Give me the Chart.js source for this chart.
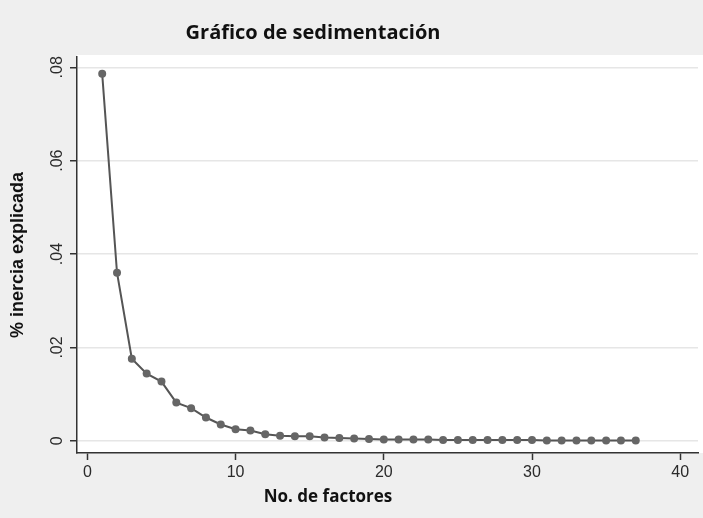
<!DOCTYPE html>
<html>
<head>
<meta charset="utf-8">
<script src="https://cdn.jsdelivr.net/npm/chart.js@4"></script>
<style>
  body { margin: 0; background: #efefef; }
  canvas { display: block; }
</style>
</head>
<body>
<canvas id="screeChart" width="703" height="518"></canvas>
<script>
// valores
const factores = [1, 2, 3, 4, 5, 6, 7, 8, 9, 10, 11, 12, 13, 14, 15, 16, 17, 18, 19, 20,
  21, 22, 23, 24, 25, 26, 27, 28, 29, 30, 31, 32, 33, 34, 35, 36, 37];
const inercia = [0.0786, 0.0360, 0.0176, 0.0144, 0.0127, 0.0082, 0.0070, 0.0050, 0.0035, 0.0025,
  0.0022, 0.0014, 0.0011, 0.0010, 0.0010, 0.0007, 0.0006, 0.0005, 0.0004, 0.0003,
  0.0003, 0.0003, 0.0003, 0.0002, 0.0002, 0.0002, 0.0002, 0.0002, 0.0002, 0.0002,
  0.0001, 0.0001, 0.0001, 0.0001, 0.0001, 0.0001, 0.0001];
const xTicks = [0, 10, 20, 30, 40];
const yTicks = [0, 0.02, 0.04, 0.06, 0.08];
const yTickLabels = ['0', '.02', '.04', '.06', '.08'];

const chartTitle = 'Gráfico de sedimentación';
const xTitle = 'No. de factores';
const yTitle = '% inercia explicada';

// fondo blanco del area del grafico + textos extra
const plotBg = {
  id: 'plotBg',
  beforeDraw(chart) {
    const { ctx, chartArea: a } = chart;
    ctx.save();
    ctx.fillStyle = '#ffffff';
    ctx.fillRect(a.left, a.top - 2, a.right - a.left + 5, a.bottom - a.top + 2);
    ctx.restore();
  },
  afterDraw(chart) {
    const { ctx } = chart;
    const y = chart.scales.y;
    ctx.save();
    ctx.fillStyle = '#2a2a2a';
    ctx.font = '16px "Liberation Sans", Arial';
    ctx.textAlign = 'center';
    ctx.textBaseline = 'middle';
    yTicks.forEach((v, i) => {
      ctx.save();
      ctx.translate(58, y.getPixelForValue(v));
      ctx.rotate(-Math.PI / 2);
      ctx.fillText(yTickLabels[i], 0, 0);
      ctx.restore();
    });
    ctx.fillStyle = '#111';
    ctx.font = 'bold 20px "Open Sans"';
    ctx.fillText(chartTitle, 313, 33);
    ctx.font = 'bold 17px "Open Sans"';
    ctx.fillText(xTitle, 328, 497);
    ctx.restore();
  }
};

new Chart(document.getElementById('screeChart').getContext('2d'), {
  type: 'line',
  data: {
    datasets: [{
      data: factores.map((f, i) => ({ x: f, y: inercia[i] })),
      borderColor: '#555',
      borderWidth: 2,
      pointRadius: 4,
      pointBackgroundColor: '#666',
      pointBorderColor: '#666',
      pointBorderWidth: 0,
      tension: 0,
    }],
  },
  options: {
    responsive: false,
    animation: false,
    devicePixelRatio: 1,
    layout: { padding: { top: 57, right: 5, left: 0, bottom: 0 } },
    plugins: {
      legend: { display: false },
      tooltip: { enabled: false },
    },
    scales: {
      x: {
        type: 'linear',
        min: -0.7,
        max: 41.2,
        afterBuildTicks: (scale) => { scale.ticks = xTicks.map((v) => ({ value: v })); },
        afterFit: (scale) => { scale.height = 65; },
        grid: { drawOnChartArea: false, tickLength: 7, tickColor: '#333', tickWidth: 1.5 },
        border: { color: '#333', width: 1.5 },
        ticks: {
          color: '#2a2a2a',
          padding: 3,
          maxRotation: 0,
          font: { family: '"Liberation Sans", Arial', size: 16 },
        },
      },
      y: {
        min: -0.0026,
        max: 0.0822,
        afterBuildTicks: (scale) => { scale.ticks = yTicks.map((v) => ({ value: v })); },
        afterFit: (scale) => { scale.width = 77; },
        grid: { color: '#e6e6e6', lineWidth: 1.5, tickLength: 7, tickColor: '#333', tickWidth: 1.5 },
        border: { color: '#333', width: 1.5 },
        ticks: { display: false },
        title: {
          display: true,
          text: yTitle,
          color: '#111',
          padding: { top: 7, bottom: 0 },
          font: { family: '"Liberation Sans", Arial', size: 18, weight: 'bold' },
        },
      },
    },
  },
  plugins: [plotBg],
});
</script>
</body>
</html>
